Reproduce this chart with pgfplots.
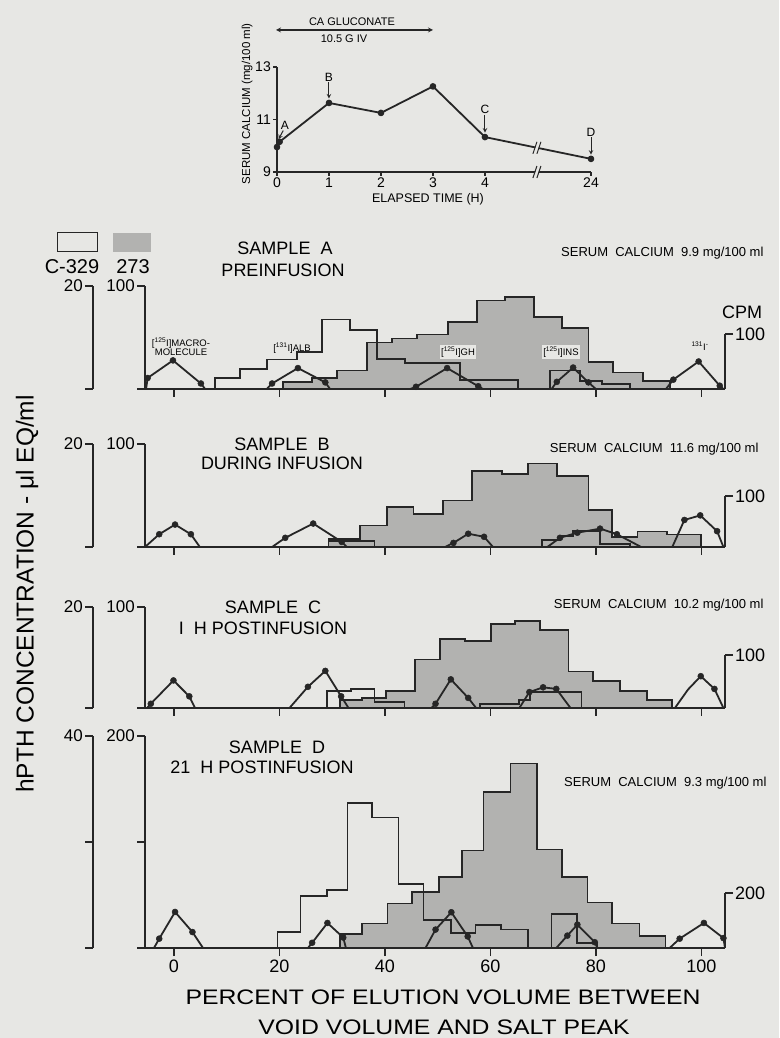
\documentclass[border=0pt]{standalone}
\usepackage{pgfplots}
\pgfplotsset{compat=1.18}
\usepackage{fontspec}
\setmainfont{Liberation Sans}

\definecolor{paper}{RGB}{231,231,228}
\definecolor{ink}{RGB}{38,38,38}
\definecolor{grayfill}{RGB}{178,178,176}

\newcommand{\fs}[1]{\fontsize{#1}{#1}\selectfont}
\newcommand{\iso}[1]{[\textsuperscript{#1}I]}

\pgfplotsset{
  base/.style={scale only axis, anchor=south west, clip=false,
    axis line style={ink, line width=1.4pt},
    every tick/.append style={ink, line width=1.4pt},
    /pgf/number format/assume math mode=true},
  hist/.style={base, width=580pt, xmin=-5.5, xmax=104.5, ymin=0},
  mainax/.style={hist, axis x line*=bottom, axis y line*=left,
    xtick={0,20,...,100}, xticklabels={}, tick align=outside, major tick length=8pt,
    yticklabel style={font=\fs{17}, inner sep=2pt}},
  c329ax/.style={hist, hide axis},
  outerax/.style={base, width=10pt, xmin=0, xmax=1, ymin=0,
    axis y line*=left, axis x line=none, xtick=\empty,
    tick align=outside, major tick length=8pt,
    yticklabel style={font=\fs{17}, inner sep=2pt}},
  cpmax/.style={hist, axis y line*=right, axis x line=none, xtick=\empty,
    tick align=outside, major tick length=8pt,
    yticklabel style={font=\fs{18}, inner sep=2pt}},
  grayhist/.style={const plot, fill=grayfill, draw=ink, line width=1.7pt},
  whitehist/.style={const plot, draw=ink, line width=1.7pt},
  tri/.style={ink, line width=1.8pt, line join=round, mark=*, mark size=3pt,
    mark options={fill=ink, line width=0.5pt}, mark indices={2,3,4}},
}

\begin{document}
\begin{tikzpicture}[x=1pt,y=1pt]
\useasboundingbox (0,0) rectangle (779,1038);
\fill[paper] (0,0) rectangle (779,1038);

% ---------------- inset: serum calcium ----------------
\begin{axis}[base, at={(277pt,866pt)}, width=314pt, height=105pt,
  xmin=0, xmax=6.04, ymin=9, ymax=13,
  axis x line*=bottom, axis y line*=left,
  xtick={0,1,2,3,4,6.04}, xticklabels={0,1,2,3,4,24}, ytick={9,11,13},
  tick align=outside, major tick length=4pt,
  ticklabel style={font=\fs{14}, inner sep=2pt}]
\addplot[ink, line width=1.8pt, line join=round, mark=*, mark size=2.4pt]
  coordinates {(0,9.95) (0.05,10.15) (1,11.63) (2,11.25) (3,12.26) (4,10.33) (6.04,9.5)};
\node[font=\fs{12}] at (axis cs:1,12.62) {B};
\draw[ink, line width=1pt, -stealth] (axis cs:1,12.42) -- (axis cs:1,11.8);
\node[font=\fs{12}] at (axis cs:4,11.38) {C};
\draw[ink, line width=1pt, -stealth] (axis cs:4,11.18) -- (axis cs:4,10.5);
\node[font=\fs{12}] at (axis cs:6.04,10.52) {D};
\draw[ink, line width=1pt, -stealth] (axis cs:6.04,10.32) -- (axis cs:6.04,9.66);
\node[font=\fs{12}] at (axis cs:0.15,10.78) {A};
\draw[ink, line width=1pt, -stealth] (axis cs:0.12,10.58) -- (axis cs:0.03,10.25);
\draw[paper, line width=3pt] (axis cs:5,9) ++(-2pt,-6pt) -- ++(4pt,12pt);
\draw[ink, line width=1pt] (axis cs:5,9) ++(-4pt,-6pt) -- ++(4pt,12pt);
\draw[ink, line width=1pt] (axis cs:5,9) ++(0pt,-6pt) -- ++(4pt,12pt);
\draw[paper, line width=3pt] (axis cs:5,9.92) ++(-2pt,-6pt) -- ++(4pt,12pt);
\draw[ink, line width=1pt] (axis cs:5,9.92) ++(-4pt,-6pt) -- ++(4pt,12pt);
\draw[ink, line width=1pt] (axis cs:5,9.92) ++(0pt,-6pt) -- ++(4pt,12pt);
\node[rotate=90, font=\fs{11.5}] at (rel axis cs:-0.095,0.65) {SERUM CALCIUM (mg/100 ml)};
\end{axis}
\node[font=\fs{12.5}] at (428,839) {ELAPSED TIME (H)};
\draw[ink, line width=1.2pt, stealth-stealth] (276,1008) -- (433,1008);
\node[font=\fs{11}] at (352,1016) {CA GLUCONATE};
\node[font=\fs{11}] at (344,999) {10.5 G IV};

% ---------------- legend ----------------
\draw[ink, line width=1pt] (57,786) rectangle (97,805);
\fill[grayfill] (113,786) rectangle (151,805);
\node[font=\fs{20}] at (72,771) {C-329};
\node[font=\fs{20}] at (133,771) {273};

% ---------------- panel A ----------------
\begin{axis}[mainax, at={(145pt,649pt)}, height=103pt, ymax=100, ytick={0,100}, yticklabels={,100}]
\addplot[grayhist] coordinates {(20.7,0) (20.7,6.5) (26.2,11) (30.9,18) (36.6,45) (41.4,49) (46.1,53)
  (52,65) (57.5,86) (62.8,89) (68.3,70) (73.6,59) (78.6,26) (83.3,16) (89,8) (94.1,0)} \closedcycle;
\end{axis}
\begin{axis}[c329ax, at={(145pt,649pt)}, height=103pt, ymax=20]
\addplot[whitehist] coordinates {(7.8,0) (7.8,2.1) (12.5,3.9) (17.6,5.7) (23.3,7.2) (28.1,13.5)
  (33.4,11.5) (38.5,5.8) (43.8,5.0) (54.3,1.7) (65.3,0)};
\addplot[whitehist] coordinates {(71.3,0) (71.3,3.6) (77,1.6) (81.2,1.0) (86.5,0)};
\end{axis}
\begin{axis}[outerax, at={(93pt,649pt)}, height=103pt, ymax=20, ytick={0,20}, yticklabels={,20}]
\end{axis}
\begin{axis}[cpmax, at={(145pt,649pt)}, height=55pt, ymax=100, ytick={100}]
\addplot[tri] coordinates {(-5.3,0) (-5.0,20) (-0.2,52) (5.1,10) (5.9,0)};
\addplot[tri] coordinates {(17.6,0) (18.6,10) (23.5,38) (28.7,12) (29.6,0)};
\addplot[tri] coordinates {(44.8,0) (45.9,4) (51.8,38) (57.7,5) (58.6,0)};
\addplot[tri] coordinates {(71.6,0) (72.6,13) (75.7,39) (78.6,12) (80,0)};
\addplot[tri] coordinates {(93.3,0) (94.7,17) (99.5,50) (103.5,6) (104.2,0)};
\end{axis}
\node[font=\fs{18}] at (285,790) {SAMPLE\ \ A};
\node[font=\fs{18}] at (283,768) {PREINFUSION};
\node[font=\fs{13}, anchor=east] at (767,785) {SERUM\ \ CALCIUM\ \ 9.9 mg/100 ml};
\node[font=\fs{18}] at (742,726) {CPM};
\node[font=\fs{9.5}, align=center] at (181,691) {\iso{125}MACRO-\\MOLECULE};
\node[font=\fs{9.5}] at (292,690) {\iso{131}ALB};
\node[font=\fs{9.5}, fill=paper, inner sep=1.5pt] at (458,686) {\iso{125}GH};
\node[font=\fs{9.5}, fill=paper, inner sep=1.5pt] at (561,686) {\iso{125}INS};
\node[font=\fs{9.5}] at (700,692) {\textsuperscript{131}I\textsuperscript{-}};

% ---------------- panel B ----------------
\begin{axis}[mainax, at={(145pt,491pt)}, height=103pt, ymax=100, ytick={0,100}, yticklabels={,100}]
\addplot[grayhist] coordinates {(29.3,0) (29.3,8) (35.3,21) (40.4,39) (45.4,32) (51,45) (56.5,74)
  (62.2,71) (67.2,81) (72.6,69) (78.6,36) (83.1,10) (87.9,15) (93.5,12) (100,0)} \closedcycle;
\end{axis}
\begin{axis}[c329ax, at={(145pt,491pt)}, height=103pt, ymax=20]
\addplot[whitehist] coordinates {(29.3,0) (29.3,1.2) (38,0)};
\addplot[whitehist] coordinates {(69.8,0) (69.8,1.3) (73.2,2.1) (75.7,3.1) (80.8,0.6) (86.5,0)};
\end{axis}
\begin{axis}[outerax, at={(93pt,491pt)}, height=103pt, ymax=20, ytick={0,20}, yticklabels={,20}]
\end{axis}
\begin{axis}[cpmax, at={(145pt,491pt)}, height=51pt, ymax=100, ytick={100}]
\addplot[tri] coordinates {(-5.5,0) (-2.8,25) (0.2,44) (3.2,25) (4.9,0)};
\addplot[tri] coordinates {(18.6,0) (21.1,18) (26.4,46) (31.8,10) (32.8,0)};
\addplot[tri] coordinates {(51.4,0) (53,8) (55.8,26) (58.8,20) (60.5,0)};
\addplot[tri, mark indices={2,3,4,5}] coordinates {(70.8,0) (73.2,18) (76.5,28) (80.8,36) (84,25) (88.6,0)};
\addplot[tri] coordinates {(94.5,0) (96.8,53) (99.8,62) (103,31) (104.2,0)};
\end{axis}
\node[font=\fs{18}] at (282,594) {SAMPLE\ \ B};
\node[font=\fs{18}] at (282,575) {DURING INFUSION};
\node[font=\fs{13}, anchor=east] at (762,589) {SERUM\ \ CALCIUM\ \ 11.6 mg/100 ml};

% ---------------- panel C ----------------
\begin{axis}[mainax, at={(145pt,330pt)}, height=101pt, ymax=100, ytick={0,100}, yticklabels={,100}]
\addplot[grayhist] coordinates {(31.5,0) (31.5,8) (35.7,10) (40.2,17) (45.7,48) (50.5,68) (55.2,66)
  (60.1,83) (64.7,86) (69.4,77) (74.8,36) (79.5,27) (84.6,17) (89.7,8) (94.5,0)} \closedcycle;
\end{axis}
\begin{axis}[c329ax, at={(145pt,330pt)}, height=101pt, ymax=20]
\addplot[whitehist] coordinates {(29,0) (29,3.4) (33.6,3.8) (38,1.2) (43.7,0)};
\addplot[whitehist] coordinates {(58,0) (58,0.85) (65.4,1.6) (67.5,3.1) (77.3,0)};
\end{axis}
\begin{axis}[outerax, at={(93pt,330pt)}, height=101pt, ymax=20, ytick={0,20}, yticklabels={,20}]
\end{axis}
\begin{axis}[cpmax, at={(145pt,330pt)}, height=53pt, ymax=100, ytick={100}]
\addplot[tri] coordinates {(-5.1,0) (-4.4,8) (-0.1,52) (2.9,22) (4,0)};
\addplot[tri] coordinates {(21.9,0) (25.4,40) (28.7,70) (31.7,22) (33.1,0)};
\addplot[tri] coordinates {(48.8,0) (49.6,8) (52.5,54) (55.8,19) (57.3,0)};
\addplot[tri] coordinates {(65.5,0) (67.4,30) (70,39) (72.5,36) (75.2,0)};
\addplot[tri, mark indices={3,4}] coordinates {(95,0) (97.5,35) (99.9,60) (102.5,36) (104.2,0)};
\end{axis}
\node[font=\fs{18}] at (273,431) {SAMPLE\ \ C};
\node[font=\fs{18}] at (263,410) {I\ \ H POSTINFUSION};
\node[font=\fs{13}, anchor=east] at (767,433) {SERUM\ \ CALCIUM\ \ 10.2 mg/100 ml};

% ---------------- panel D ----------------
\begin{axis}[mainax, at={(145pt,90pt)}, height=212pt, ymax=200, ytick={0,100,200}, yticklabels={,,200},
  xticklabels={0,20,40,60,80,100}, xticklabel style={font=\fs{18}, inner sep=4pt}]
\addplot[grayhist] coordinates {(31.5,0) (31.5,13) (35.6,23) (40.5,42) (45.2,53) (50.2,67) (54.6,92)
  (58.7,147) (63.8,174) (68.8,93) (73.6,67) (78.4,43) (83.1,23) (88.3,11) (93.2,0)} \closedcycle;
\end{axis}
\begin{axis}[c329ax, at={(145pt,90pt)}, height=212pt, ymax=40]
\addplot[whitehist] coordinates {(19.6,0) (19.6,3.0) (24,9.8) (29,10.9) (32.9,27.4) (37.6,24.6)
  (42.6,12.1) (47.3,5.3) (52.5,2.8) (57.2,4.3) (62,3.5) (67.1,0)};
\addplot[whitehist] coordinates {(71.6,0) (71.6,6.4) (76.4,0.9) (80.2,0)};
\end{axis}
\begin{axis}[outerax, at={(93pt,90pt)}, height=212pt, ymax=40, ytick={0,20,40}, yticklabels={,,40}]
\end{axis}
\begin{axis}[cpmax, at={(145pt,90pt)}, height=55pt, ymax=200, ytick={200}]
\addplot[tri] coordinates {(-3.8,0) (-2.8,34) (0.2,131) (3.5,58) (5.5,0)};
\addplot[tri] coordinates {(25.4,0) (26.2,19) (29.1,91) (32.1,38) (32.6,0)};
\addplot[tri] coordinates {(47.7,0) (49.6,67) (52.6,130) (55.7,42) (56.7,0)};
\addplot[tri] coordinates {(72.5,0) (74.6,45) (76.5,85) (79.8,21) (80.3,0)};
\addplot[tri] coordinates {(94,0) (95.9,34) (100.5,91) (104.2,36) (104.5,0)};
\end{axis}
\node[font=\fs{18}] at (277,291) {SAMPLE\ \ D};
\node[font=\fs{18}] at (262,271) {21\ \ H POSTINFUSION};
\node[font=\fs{13}, anchor=east] at (770,255) {SERUM\ \ CALCIUM\ \ 9.3 mg/100 ml};

% ---------------- shared labels ----------------
\node[rotate=90, font=\fs{24.5}] at (27,444) {hPTH CONCENTRATION - μl EQ/ml};
\node[font=\fs{21}] at (443,41) {\scalebox{1.18}[1]{PERCENT OF ELUTION VOLUME BETWEEN}};
\node[font=\fs{21}] at (444,11) {\scalebox{1.18}[1]{VOID VOLUME AND SALT PEAK}};
\end{tikzpicture}
\end{document}
